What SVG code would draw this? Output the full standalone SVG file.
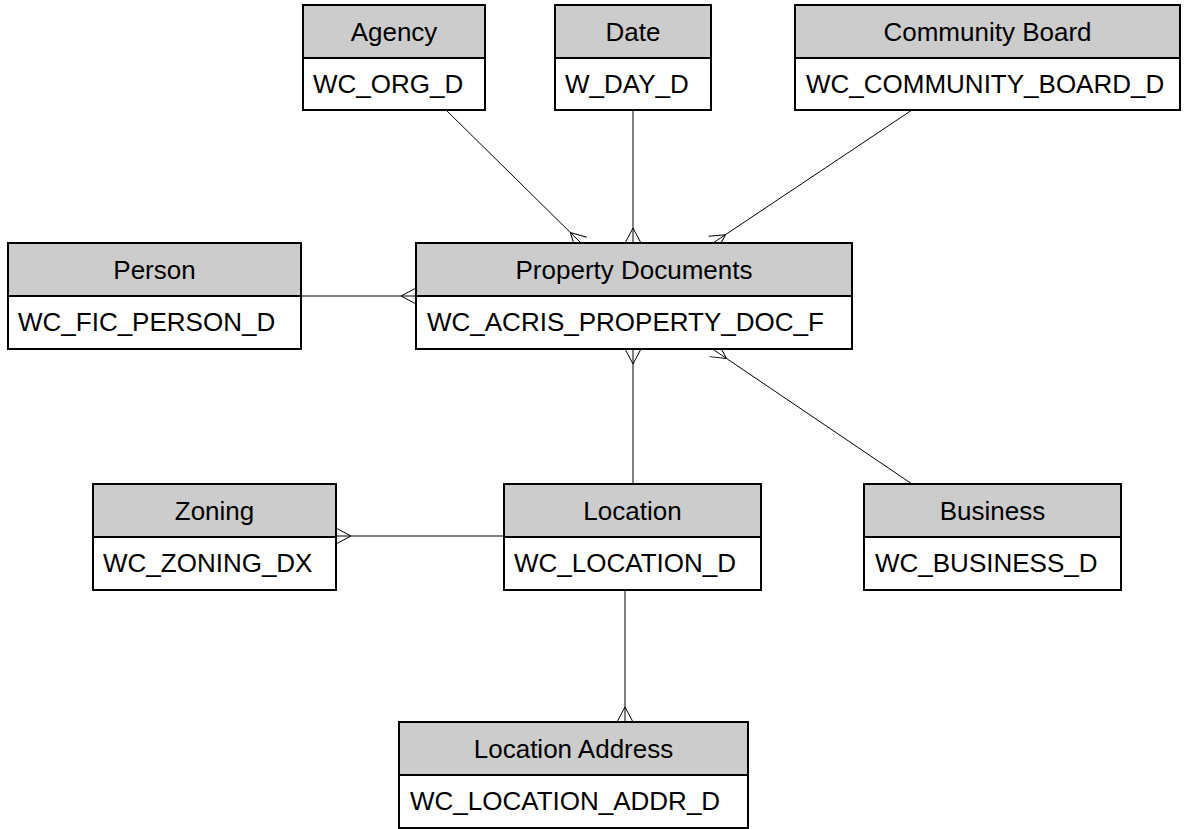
<svg xmlns="http://www.w3.org/2000/svg" width="1184" height="829" viewBox="0 0 1184 829">
<style>
.hd{fill:#cccccc;stroke:#000;stroke-width:2}
.bd{fill:#ffffff;stroke:#000;stroke-width:2}
.t{font-family:"Liberation Sans",Arial,sans-serif;font-size:26px;fill:#000}
.c{text-anchor:middle}
.ln{stroke:#000;stroke-width:1;fill:none;marker-end:url(#crow)}
</style>
<defs>
<marker id="crow" markerUnits="userSpaceOnUse" orient="auto" markerWidth="20" markerHeight="20" refX="0" refY="0" viewBox="-16 -10 20 20" overflow="visible">
<path d="M-15,0 L0,-8 M-15,0 L0,8" stroke="#000" stroke-width="1" fill="none"/>
</marker>
</defs>
<rect width="1184" height="829" fill="#fff"/>
<g id="connectors">
<line class="ln" x1="446" y1="110" x2="581" y2="243"/>
<line class="ln" x1="633" y1="110" x2="633" y2="243"/>
<line class="ln" x1="912" y1="110" x2="713" y2="243"/>
<line class="ln" x1="301" y1="296" x2="416" y2="296"/>
<line class="ln" x1="633" y1="484" x2="633" y2="349"/>
<line class="ln" x1="912" y1="484" x2="714" y2="350"/>
<line class="ln" x1="504" y1="536" x2="336" y2="536"/>
<line class="ln" x1="625" y1="590" x2="625" y2="722"/>
</g>
<g id="agency">
<rect class="hd" x="303" y="5" width="182" height="53"/>
<rect class="bd" x="303" y="58" width="182" height="52"/>
<text class="t c" x="394" y="41">Agency</text>
<text class="t" x="313" y="93">WC_ORG_D</text>
</g>
<g id="date">
<rect class="hd" x="555" y="5" width="156" height="53"/>
<rect class="bd" x="555" y="58" width="156" height="52"/>
<text class="t c" x="633" y="41">Date</text>
<text class="t" x="565" y="93">W_DAY_D</text>
</g>
<g id="community-board">
<rect class="hd" x="795" y="5" width="385" height="53"/>
<rect class="bd" x="795" y="58" width="385" height="52"/>
<text class="t c" x="987.5" y="41">Community Board</text>
<text class="t" x="806" y="93">WC_COMMUNITY_BOARD_D</text>
</g>
<g id="person">
<rect class="hd" x="8" y="243" width="293" height="53"/>
<rect class="bd" x="8" y="296" width="293" height="53"/>
<text class="t c" x="154.5" y="279">Person</text>
<text class="t" x="18" y="331">WC_FIC_PERSON_D</text>
</g>
<g id="property-documents">
<rect class="hd" x="416" y="243" width="436" height="53"/>
<rect class="bd" x="416" y="296" width="436" height="53"/>
<text class="t c" x="634" y="279">Property Documents</text>
<text class="t" x="427" y="331">WC_ACRIS_PROPERTY_DOC_F</text>
</g>
<g id="zoning">
<rect class="hd" x="93" y="484" width="243" height="53"/>
<rect class="bd" x="93" y="537" width="243" height="53"/>
<text class="t c" x="214.5" y="520">Zoning</text>
<text class="t" x="103" y="572">WC_ZONING_DX</text>
</g>
<g id="location">
<rect class="hd" x="504" y="484" width="257" height="53"/>
<rect class="bd" x="504" y="537" width="257" height="53"/>
<text class="t c" x="632.5" y="520">Location</text>
<text class="t" x="514" y="572">WC_LOCATION_D</text>
</g>
<g id="business">
<rect class="hd" x="864" y="484" width="257" height="53"/>
<rect class="bd" x="864" y="537" width="257" height="53"/>
<text class="t c" x="992.5" y="520">Business</text>
<text class="t" x="875" y="572">WC_BUSINESS_D</text>
</g>
<g id="location-address">
<rect class="hd" x="399" y="722" width="349" height="53"/>
<rect class="bd" x="399" y="775" width="349" height="53"/>
<text class="t c" x="573.5" y="758">Location Address</text>
<text class="t" x="410" y="810">WC_LOCATION_ADDR_D</text>
</g>
</svg>
